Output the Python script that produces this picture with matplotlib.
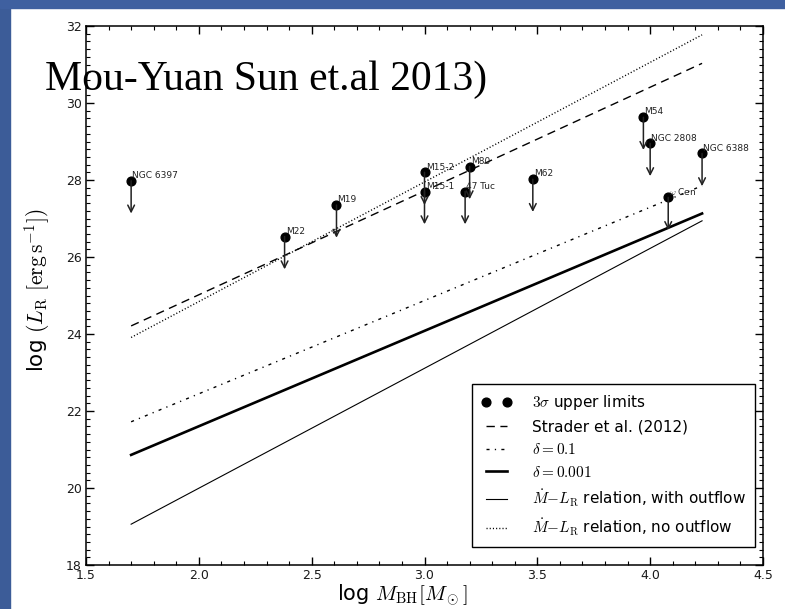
import matplotlib
matplotlib.use('Agg')
import matplotlib.pyplot as plt
from matplotlib.patches import Rectangle
from matplotlib.ticker import MultipleLocator

# globular clusters: log BH mass vs 3-sigma radio upper limit
names = ['NGC 6397', 'M22', 'M19', 'M15-2', 'M15-1', '47 Tuc', 'M80', 'M62',
         'M54', 'NGC 2808', 'NGC 6388', r'$\omega$ Cen']
log_m = [1.70, 2.38, 2.61, 3.00, 3.00, 3.18, 3.20, 3.48, 3.97, 4.00, 4.23, 4.08]
log_l = [27.98, 26.53, 27.35, 28.20, 27.70, 27.70, 28.35, 28.02, 29.63, 28.95, 28.69, 27.55]

# model relations, evaluated at the ends of the mass range
m_range = [1.70, 4.23]
strader = [24.21, 31.03]
delta_01 = [21.72, 27.85]
delta_0001 = [20.86, 27.13]
with_outflow = [19.06, 26.94]
no_outflow = [23.91, 31.77]

plt.rcParams['mathtext.fontset'] = 'cm'
plt.rcParams['lines.scale_dashes'] = False

fig = plt.figure(figsize=(7.85, 6.09), dpi=100, facecolor='w')
fig.patches.append(Rectangle((0, 0), 10 / 785, 1, transform=fig.transFigure,
                             color='#3c5c98', zorder=0))
fig.patches.append(Rectangle((0, 1 - 8 / 609), 1, 8 / 609, transform=fig.transFigure,
                             color='#3f60a0', zorder=0))

ax = fig.add_axes([86 / 785, 1 - 565 / 609, 677 / 785, 539 / 609])

ax.plot(log_m, log_l, 'o', color='k', ms=6.3, label=r'$3\sigma$ upper limits')
for x, y, name in zip(log_m, log_l, names):
    ax.annotate('', xy=(x, y - 0.85), xytext=(x, y),
                arrowprops=dict(arrowstyle='->', lw=1.1, color='#222222',
                                shrinkA=0, shrinkB=0, mutation_scale=12))
    ax.text(x + 0.005, y + 0.02, name, fontsize=6.5, ha='left', va='bottom',
            color='#222222')

ax.plot(m_range, strader, color='k', lw=1.0, dashes=(6, 4),
        label='Strader et al. (2012)')
ax.plot(m_range, delta_01, color='k', lw=1.0, dashes=(2.2, 3.8, 0.9, 3.8),
        label=r'$\delta=0.1$')
ax.plot(m_range, delta_0001, color='k', lw=1.9, label=r'$\delta=0.001$')
ax.plot(m_range, with_outflow, color='k', lw=0.8,
        label=r'$\dot{M}{-}L_{\rm R}$ relation, with outflow')
ax.plot(m_range, no_outflow, color='k', lw=1.0, dashes=(0.8, 1.5),
        label=r'$\dot{M}{-}L_{\rm R}$ relation, no outflow')

ax.set_xlim(1.5, 4.5)
ax.set_ylim(18, 32)
ax.xaxis.set_major_locator(MultipleLocator(0.5))
ax.xaxis.set_minor_locator(MultipleLocator(0.1))
ax.yaxis.set_major_locator(MultipleLocator(2))
ax.yaxis.set_minor_locator(MultipleLocator(0.2))
ax.tick_params(which='both', direction='in', top=True, right=True,
               labelsize=9, labelcolor='#1a1a1a', pad=3)
ax.tick_params(which='major', length=6, width=1)
ax.tick_params(which='minor', length=3, width=0.8)
for spine in ax.spines.values():
    spine.set_linewidth(1.1)

ax.set_xlabel(r'log $M_{\rm BH}[M_\odot]$', fontsize=15)
ax.set_ylabel(r'log $(L_{\rm R}\ [{\rm erg\,s^{-1}}])$', fontsize=15.5)
ax.xaxis.set_label_coords(0.467, -0.033)
ax.yaxis.set_label_coords(-0.05, 0.51)

leg = ax.legend(loc='lower right', bbox_to_anchor=(0.988, 0.034), borderaxespad=0,
                numpoints=2, fontsize=11, fancybox=False, framealpha=1,
                edgecolor='k', labelspacing=0.5, handletextpad=1.3,
                handlelength=2.0, borderpad=0.6)
leg.get_frame().set_linewidth(1.0)

fig.text(45 / 785, 1 - 90 / 609, 'Mou-Yuan Sun et.al 2013)', fontsize=30,
         family='Liberation Serif', ha='left', va='baseline', color='k')

fig.savefig('out.png', dpi=100, facecolor='w')
plt.close()
